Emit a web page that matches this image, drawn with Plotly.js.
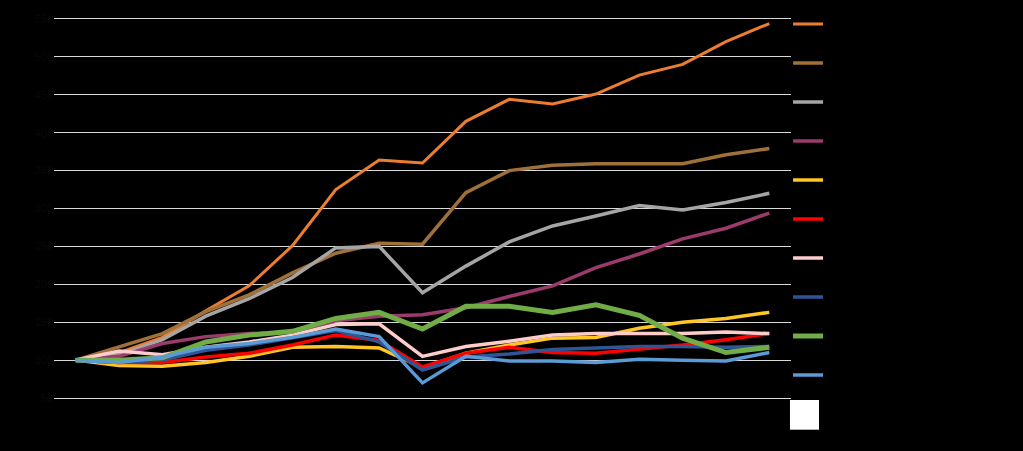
<!DOCTYPE html>
<html>
<head>
<meta charset="utf-8">
<script src="https://cdn.plot.ly/plotly-3.0.1.min.js"></script>
<style>
  html, body { margin: 0; padding: 0; background: #000; }
  #chart { width: 1023px; height: 451px; }
</style>
</head>
<body>
<div id="chart"></div>
<script>
// Categories (periods) – labels are not visible in the reference (black on black)
const categories = ["1","2","3","4","5","6","7","8","9","10","11","12","13","14","15","16","17"];

// Series values (indexed, start = 100)
const seriesNames = ["Series 1","Series 2","Series 3","Series 4","Series 5","Series 6","Series 7","Series 8","Series 9","Series 10"];
const s1  = [100,110,130,165,198,251,325,364,360,415,444,438,451,476,490,520,544];
const s2  = [100,118,135,164,186,215,241,254,253,321,350,357,359,359,359,371,379];
const s3  = [100,107,127,158,181,209,248,250,189,224,256,277,290,304,298,308,320];
const s4  = [100,105,122,131,135,137,152,158,160,169,184,198,222,240,260,274,294];
const s5  = [100,93,92,97,105,117,118,116,90,109,120,129,130,142,150,155,163];
const s6  = [100,97,97,104,109,120,133,126,91,109,117,110,109,114,120,127,135];
const s7  = [100,112,107,117,124,133,147,148,105,118,125,133,135,135,135,137,135];
const s8  = [100,97,100,113,120,129,139,124,87,104,108,114,116,118,118,117,118];
const s9  = [100,100,103,124,133,138,155,163,141,171,171,163,173,159,129,110,117];
const s10 = [100,97,104,117,122,130,141,131,70,105,99,99,97,101,100,99,110];

const yTicks = [50,100,150,200,250,300,350,400,450,500,550];

const allSeries = [s1,s2,s3,s4,s5,s6,s7,s8,s9,s10];
const colors = ["#ED7D31","#A0703A","#A5A5A5","#9B3B6C","#FFC626","#FF0000","#FFCCCC","#2F5597","#70AD47","#5B9BD5"];
const widths = [3,3.5,3.5,3.5,3.5,3.5,3.5,3.5,5,3.5];

const traces = allSeries.map((ys, i) => ({
  type: "scatter",
  mode: "lines",
  x: categories,
  y: ys,
  name: seriesNames[i],
  legendgroup: "g" + i,
  line: { color: colors[i], width: widths[i] },
  hoverinfo: "skip"
}));

const layout = {
  width: 1023,
  height: 451,
  paper_bgcolor: "#000000",
  plot_bgcolor: "#000000",
  margin: { l: 54, r: 232, t: 10, b: 49 },
  font: { family: "Liberation Sans, Arial, sans-serif", color: "#000000", size: 12 },
  showlegend: true,
  legend: {
    x: 0.996, xanchor: "left", xref: "paper",
    y: 1.0115, yanchor: "top",
    bgcolor: "rgba(0,0,0,0)",
    font: { color: "#000000", size: 12 },
    tracegroupgap: 20,
    itemwidth: 30,
    traceorder: "grouped",
    maxheight: 1
  },
  xaxis: {
    type: "category",
    range: [-0.5, 16.5],
    showgrid: false,
    zeroline: false,
    showline: false,
    ticks: "",
    tickfont: { color: "#000000", size: 11 }
  },
  yaxis: {
    range: [44.77, 556.54],
    tickvals: yTicks,
    showgrid: true,
    gridcolor: "#D9D9D9",
    gridwidth: 1,
    zeroline: false,
    showline: false,
    ticks: "",
    tickfont: { color: "#080808", size: 11 }
  },
  shapes: [
    { type: "rect", xref: "paper", yref: "paper", x0: 0.9986, x1: 1.038, y0: -0.0714, y1: 0.0051,
      fillcolor: "#FFFFFF", line: { color: "#FFFFFF", width: 0 } }
  ]
};

Plotly.newPlot("chart", traces, layout, { displayModeBar: false, staticPlot: true });
</script>
</body>
</html>
